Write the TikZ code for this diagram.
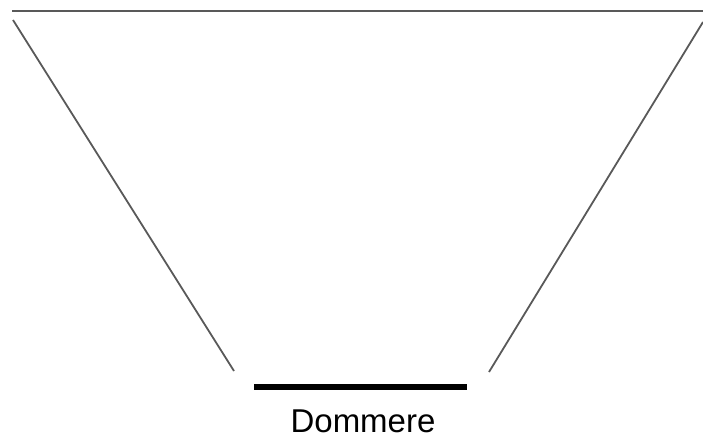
\documentclass[tikz,border=0pt]{standalone}
\usepackage{fontspec}
\setmainfont{Liberation Sans}
\begin{document}
\begin{tikzpicture}[x=1pt,y=-1pt]
            \tikzstyle{kant} = [line width=1.8pt, draw=black!65]
            \tikzstyle{bord} = [line width=6pt, draw=black]
            \useasboundingbox (0,0) rectangle (703,444);
            \coordinate (topV) at (12,11);
            \coordinate (topH) at (703,11);
            \coordinate (venstre1) at (13,20);
            \coordinate (venstre2) at (234,371);
            \coordinate (hoyre1) at (703,22);
            \coordinate (hoyre2) at (489,372);
            \coordinate (bordV) at (254,387);
            \coordinate (bordH) at (467,387);
            \node (dommere) at (363,421) {\fontsize{33}{37}\selectfont Dommere};

            \draw [kant] (topV) -- (topH);
            \draw [kant] (venstre1) -- (venstre2);
            \draw [kant] (hoyre1) -- (hoyre2);
            \draw [bord] (bordV) -- (bordH);
        \end{tikzpicture}
\end{document}
